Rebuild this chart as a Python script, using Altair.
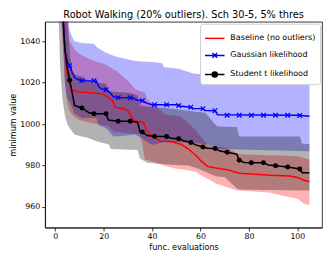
import altair as alt
import pandas as pd

names = ["Baseline (no outliers)", "Gaussian likelihood", "Student t likelihood"]
colors = ["#ff0000", "#0000ff", "#000000"]

# ---- mean curves ----
red_x = [1, 3, 4, 5, 6, 7, 10, 16, 20, 21, 23.5, 25, 28, 30, 32, 33, 36.5, 38, 40, 43.4, 48, 52, 55, 58, 60, 63, 71, 76, 89, 97, 100, 103, 105]
red_y = [1120, 1060, 1035, 1024, 1019, 1016.5, 1015.5, 1015, 1014.5, 1013.5, 1011.5, 1008, 1007.6, 1006.5, 1002.5, 1001.5, 1000.8, 996.5, 994.3, 991.8, 991.5, 990.3, 988, 985, 982.5, 979.5, 978, 976.3, 975.3, 975, 974.3, 972.8, 972.3]

blue_x = [1, 3, 4, 5, 6, 7, 8, 10, 11, 17, 18, 19, 21, 22, 24, 26, 32, 34, 36, 38, 40, 50, 52, 56, 57, 61, 62, 66, 67, 100, 105]
blue_y = [1130, 1056, 1036, 1030, 1028.2, 1025, 1022.5, 1021.2, 1021, 1020.8, 1018, 1017, 1016.6, 1016, 1013.2, 1012.8, 1012.7, 1011.5, 1011.3, 1010, 1009.4, 1009.4, 1008.6, 1008.2, 1007.6, 1007.5, 1006.6, 1006.5, 1004.5, 1004.3, 1003.8]

black_x = [1, 3, 4, 5, 6, 7, 8, 11, 14, 16, 21, 22, 26, 31, 34, 35, 36, 38, 41, 46, 48, 51, 53, 56, 58, 61, 63, 66, 68, 71, 75, 76, 78, 81, 86, 88, 91, 96, 101, 102, 105]
black_y = [1120, 1055, 1036, 1027, 1021.2, 1015, 1009, 1007.8, 1005.5, 1005, 1005, 1002, 1001.4, 1001.4, 1001, 996.3, 996.2, 994.5, 994.1, 994, 993.2, 993, 992, 991.2, 990, 989, 988.4, 988.3, 987, 986.4, 985.5, 982.6, 981.5, 981.4, 981.4, 980.3, 979.9, 979.3, 978.4, 976.5, 976.5]

# ---- markers ----
blue_mx = [6, 11, 16, 21, 26, 31, 36, 41, 46, 51, 56, 61, 66, 71, 76, 81, 86, 91, 96, 101]
blue_my = [1028.2, 1021, 1020.9, 1016.6, 1012.8, 1012.7, 1011.3, 1009.4, 1009.4, 1009, 1008.2, 1007.5, 1006.5, 1004.3, 1004.3, 1004.3, 1004.3, 1004.3, 1004.3, 1004.2]
black_mx = [6, 11, 16, 21, 26, 31, 36, 41, 46, 51, 56, 61, 66, 71, 76, 81, 86, 91, 96, 101]
black_my = [1021.2, 1007.8, 1005, 1005, 1001.4, 1001.4, 996.2, 994.1, 994, 993, 991.2, 989, 988.3, 986.4, 982.6, 981.4, 981.4, 979.9, 979.3, 978.4]

# ---- bands ----
red_bx = [1, 3, 4, 5, 6, 8, 10, 13, 15, 20, 22, 24, 25, 30, 33, 35, 36, 37, 38, 40, 45, 46, 50, 52, 55, 58, 60, 63, 64, 66, 71, 75, 76, 88, 96, 100, 103, 105]
red_up = [1150, 1110, 1080, 1050, 1040, 1036, 1034, 1032, 1031, 1029, 1028, 1026.5, 1026, 1021, 1017, 1016, 1015.5, 1015.5, 1012, 1010, 1005, 1004.5, 1004, 1003.5, 1000.5, 997, 994, 990, 989.8, 989.5, 988.5, 986, 985.5, 985, 984.7, 984.5, 983.5, 983]
red_lo = [1080, 1040, 1020, 1010, 1006, 1003.5, 1002, 1001, 1000.5, 999.5, 999, 996.5, 996.3, 995.5, 995.2, 995, 990, 983, 982.7, 982, 980, 979.6, 978.5, 978.2, 977.6, 977, 975.5, 973.5, 973, 971.5, 969.5, 968, 968, 967, 965, 964, 961.5, 961]

blue_bx = [1, 4, 5, 6, 7, 8, 11, 12, 16, 17, 18, 20, 21, 23, 24, 27, 33, 36, 40, 44, 45, 51, 57, 61, 66, 67, 105]
blue_up = [1150, 1080, 1055, 1045, 1042, 1040, 1039.2, 1039, 1038.8, 1037.3, 1036.5, 1035, 1034.5, 1033.5, 1033, 1032, 1030.5, 1030.2, 1030, 1029.5, 1027.5, 1026.7, 1024.5, 1024, 1023.5, 1021, 1020.7]
blue_lo = [1100, 1020, 1012, 1011, 1008, 1005, 1003, 1003, 1003, 1003, 999.5, 998.5, 998, 995.5, 994, 994.3, 995, 993, 990, 991, 991.5, 991.3, 991, 990.5, 989.5, 988, 986.9]

black_bx = [1, 2, 3, 4, 5, 6, 7, 8, 11, 13, 16, 17, 21, 22, 23, 31, 34, 35, 38, 46, 55, 58, 62, 66, 67, 70, 75, 76, 101, 102, 105]
black_up = [1150, 1130, 1100, 1080, 1050, 1035, 1026, 1024, 1023, 1021.5, 1020, 1020, 1019.5, 1016, 1015.8, 1015, 1014, 1009, 1008.5, 1007.8, 1006.5, 1006, 1005.5, 1000, 999, 998.8, 998.6, 994, 994, 990.5, 990.4]
black_lo = [1070, 1028, 1012, 1004, 1000, 998, 996.5, 995, 994, 993.5, 992.2, 991.8, 990.5, 990.3, 988, 987.7, 987.5, 983.4, 981.4, 980.5, 980, 979, 977, 975, 974.8, 974.4, 969, 968.5, 968, 968, 968]

x_ticks = [0, 20, 40, 60, 80, 100]
y_ticks = [960, 980, 1000, 1020, 1040]

FONT = "DejaVu Sans"
xscale = alt.Scale(domain=[-4.2, 110.2], nice=False, zero=False)
yscale = alt.Scale(domain=[950.1, 1049.4], nice=False, zero=False)

X = alt.X("x:Q", scale=xscale,
          axis=alt.Axis(values=x_ticks, title="func. evaluations", format="d",
                        titlePadding=2))
Y = alt.Y("y:Q", scale=yscale,
          axis=alt.Axis(values=y_ticks, title="minimum value", format="d",
                        titlePadding=2, labelPadding=2))


def band(xs, up, lo, color):
    df = pd.DataFrame({"x": xs, "y": up, "lo": lo})
    return alt.Chart(df).mark_area(color=color, opacity=0.3, clip=True).encode(
        x=X, y=Y, y2="lo:Q")


def line(xs, ys, color):
    df = pd.DataFrame({"x": xs, "y": ys})
    return alt.Chart(df).mark_line(color=color, strokeWidth=1.5, clip=True).encode(
        x=X, y=Y)


bands = [band(red_bx, red_up, red_lo, colors[0]),
         band(blue_bx, blue_up, blue_lo, colors[1]),
         band(black_bx, black_up, black_lo, colors[2])]
lines = [line(red_x, red_y, colors[0]),
         line(blue_x, blue_y, colors[1]),
         line(black_x, black_y, colors[2])]

x_path = "M-1,-1L1,1M-1,1L1,-1"
blue_marks = alt.Chart(pd.DataFrame({"x": blue_mx, "y": blue_my})).mark_point(
    shape=x_path, filled=False, size=22, strokeWidth=1.3, color=colors[1],
    opacity=1, clip=True).encode(x=X, y=Y)
black_marks = alt.Chart(pd.DataFrame({"x": black_mx, "y": black_my})).mark_circle(
    size=26, color=colors[2], opacity=1, clip=True).encode(x=X, y=Y)

# legend-only layer (null positions are filtered; legend from scale domain)
paths = ["M-1,0L1,0",
         "M-1,0L1,0M-0.24,-0.24L0.24,0.24M-0.24,0.24L0.24,-0.24",
         "M-1,0L1,0M0.26,0A0.26,0.26,0,1,1,-0.26,0A0.26,0.26,0,1,1,0.26,0Z"]
leg_df = pd.DataFrame({"series": names, "x": [None] * 3, "y": [None] * 3})
legend = alt.Legend(title=None, orient="top-right", offset=2, fillColor="white",
                    strokeColor="#cccccc", padding=4, cornerRadius=3,
                    labelFontSize=8.2, labelFont=FONT, labelColor="black",
                    symbolSize=400, symbolStrokeWidth=1.5, rowPadding=2.5,
                    labelOffset=5, symbolOpacity=1)
legend_layer = alt.Chart(leg_df).mark_point(
    filled=True, opacity=1, strokeWidth=1.5, clip=True).encode(
    x=X, y=Y,
    fill=alt.Fill("series:N", scale=alt.Scale(domain=names, range=colors), legend=legend),
    stroke=alt.Stroke("series:N", scale=alt.Scale(domain=names, range=colors), legend=legend),
    shape=alt.Shape("series:N", scale=alt.Scale(domain=names, range=paths), legend=legend),
)

chart = alt.layer(*bands, *lines, blue_marks, black_marks, legend_layer).properties(
    width=284, height=211,
    autosize="none",
    padding={"left": 38, "top": 11, "right": 2, "bottom": 25},
    title=alt.TitleParams("Robot Walking (20% outliers). Sch 30-5, 5% thres",
                          fontSize=10, font=FONT, fontWeight="normal",
                          anchor="middle", offset=2, color="black"),
).configure(font=FONT).configure_view(
    stroke="black", strokeWidth=0.8
).configure_axis(
    grid=False, labelFont=FONT, labelFontSize=8, labelColor="black",
    titleFont=FONT, titleFontSize=8.3, titleFontWeight="normal", titleColor="black",
    tickColor="black", tickSize=3.5, tickWidth=0.8, domainColor="black",
    domainWidth=0.8,
)

chart.save("out.html", embed_options={"renderer": "svg", "actions": False})
